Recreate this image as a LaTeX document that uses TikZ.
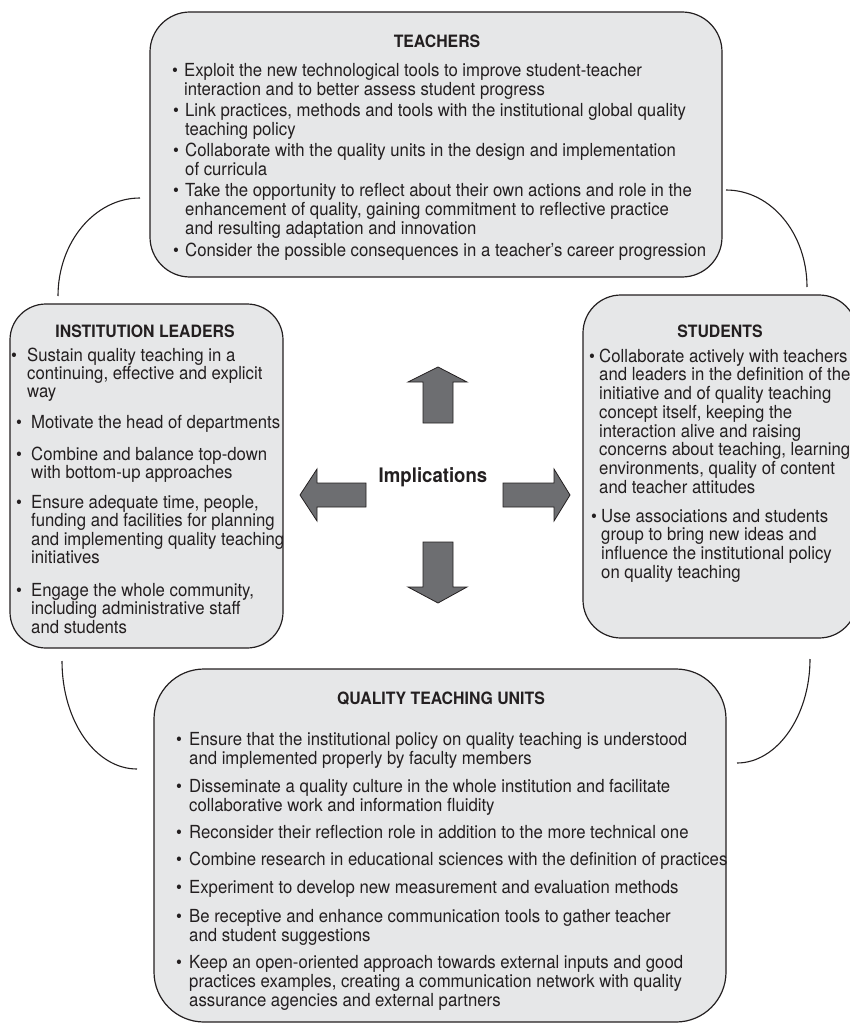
\documentclass[tikz,border=0pt]{standalone}
\usepackage{fontspec}
\setmainfont{TeX Gyre Heros}[FakeStretch=0.93]
\definecolor{boxgray}{HTML}{E6E7E8}
\definecolor{arrowgray}{HTML}{6D6E71}
\definecolor{ink}{HTML}{231F20}
\newcommand\bl[2]{\makebox[#1][l]{\textbullet}\begin{tabular}[t]{@{}l@{}}#2\end{tabular}}
\tikzset{
  panel/.style={draw=ink, line width=1.2pt, fill=boxgray, inner sep=0pt},
  ttl/.style={anchor=base, inner sep=0pt, text=ink, font=\fontsize{17}{17}\selectfont\bfseries},
  itm/.style={anchor=base west, inner sep=0pt, text=ink},
  itmT/.style={itm, font=\fontsize{18}{19}\selectfont},
  itmI/.style={itm, font=\fontsize{18}{18.3}\selectfont},
  itmS/.style={itm, font=\fontsize{18}{18.7}\selectfont},
  itmQ/.style={itm, font=\fontsize{18}{19}\selectfont},
  link/.style={draw=ink, line width=1.1pt},
  fatarrow/.style={draw=ink, line width=0.8pt, fill=arrowgray, line join=miter}
}
\begin{document}
\begin{tikzpicture}[x=1pt,y=-1pt]
\useasboundingbox (0,0) rectangle (850,1024);
\clip (0,0) rectangle (850,1024);

% panels
\node[panel, minimum width=572pt, minimum height=265pt, rounded corners=40pt] (teachers) at (436,144.5) {};
\node[panel, minimum width=273pt, minimum height=344pt, rounded corners=36pt] (leaders) at (146.5,476) {};
\node[panel, minimum width=274pt, minimum height=343pt, rounded corners=38pt] (students) at (720,466.5) {};
\node[panel, minimum width=572pt, minimum height=353pt, rounded corners=50pt] (units) at (440,845.5) {};

% connecting arcs
\coordinate (tlA) at (140,198); \coordinate (tlB) at (58,296);
\coordinate (trA) at (726,190); \coordinate (trB) at (807,287);
\coordinate (blA) at (62,661);  \coordinate (blB) at (137,769);
\coordinate (brA) at (810,659); \coordinate (brB) at (737,763);
\draw[link] (tlA) .. controls +(-45,0) and +(0,-54) .. (tlB);
\draw[link] (trA) .. controls +(45,0) and +(0,-53.5) .. (trB);
\draw[link] (blA) .. controls +(0,60) and +(-41.4,0) .. (blB);
\draw[link] (brA) .. controls +(0,57) and +(40,0) .. (brB);

% titles
\node[ttl] (tT) at (437,48) {TEACHERS};
\node[ttl] (tI) at (145,337) {INSTITUTION LEADERS};
\node[ttl] (tS) at (720,337) {STUDENTS};
\node[ttl] (tQ) at (441,704) {QUALITY TEACHING UNITS};

% teachers
\node[itmT] (t1) at (172,77) {\bl{12pt}{Exploit the new technological tools to improve student-teacher\\interaction and to better assess student progress}};
\node[itmT] (t2) at (173,117) {\bl{12pt}{Link practices, methods and tools with the institutional global quality\\teaching policy}};
\node[itmT] (t3) at (173,157) {\bl{12pt}{Collaborate with the quality units in the design and implementation\\of curricula}};
\node[itmT] (t4) at (173,197) {\bl{12pt}{Take the opportunity to reflect about their own actions and role in the\\enhancement of quality, gaining commitment to reflective practice\\and resulting adaptation and innovation}};
\node[itmT] (t5) at (173,256) {\bl{12pt}{Consider the possible consequences in a teacher’s career progression}};

% institution leaders
\node[itmI] (i1) at (11,361) {\bl{16pt}{Sustain quality teaching in a\\continuing, effective and explicit\\way}};
\node[itmI] (i2) at (16,428) {\bl{15pt}{Motivate the head of departments}};
\node[itmI] (i3) at (16,460) {\bl{15pt}{Combine and balance top-down\\with bottom-up approaches}};
\node[itmI] (i4) at (16,508) {\bl{15pt}{Ensure adequate time, people,\\funding and facilities for planning\\and implementing quality teaching\\initiatives}};
\node[itmI] (i5) at (16,596) {\bl{15pt}{Engage the whole community,\\including administrative staff\\and students}};

% students
\node[itmS] (s1) at (589,362) {\bl{10pt}{Collaborate actively with teachers\\and leaders in the definition of the\\initiative and of quality teaching\\concept itself, keeping the\\interaction alive and raising\\concerns about teaching, learning\\environments, quality of content\\and teacher attitudes}};
\node[itmS] (s2) at (591,522) {\bl{10pt}{Use associations and students\\group to bring new ideas and\\influence the institutional policy\\on quality teaching}};

% implications
\node[anchor=base, inner sep=0pt, text=ink, font=\fontsize{20}{20}\selectfont\bfseries] (impl) at (433,482) {Implications};
\draw[fatarrow] (438,367) -- (467,382) -- (453,382) -- (453,423) -- (423,423) -- (423,382) -- (408,382) -- cycle;
\draw[fatarrow] (423,542) -- (453,542) -- (453,587) -- (467,587) -- (438,603) -- (408,587) -- (423,587) -- cycle;
\draw[fatarrow] (300,495) -- (317,469) -- (317,483) -- (366,483) -- (366,507) -- (317,507) -- (317,521) -- cycle;
\draw[fatarrow] (503,483) -- (554,483) -- (554,469) -- (570,495) -- (554,521) -- (554,507) -- (503,507) -- cycle;

% quality teaching units
\node[itmQ] (q1) at (176,745) {\bl{13pt}{Ensure that the institutional policy on quality teaching is understood\\and implemented properly by faculty members}};
\node[itmQ] (q2) at (176,792) {\bl{13pt}{Disseminate a quality culture in the whole institution and facilitate\\collaborative work and information fluidity}};
\node[itmQ] (q3) at (176,838) {\bl{13pt}{Reconsider their reflection role in addition to the more technical one}};
\node[itmQ] (q4) at (176,865) {\bl{13pt}{Combine research in educational sciences with the definition of practices}};
\node[itmQ] (q5) at (176,893) {\bl{13pt}{Experiment to develop new measurement and evaluation methods}};
\node[itmQ] (q6) at (176,922) {\bl{13pt}{Be receptive and enhance communication tools to gather teacher\\and student suggestions}};
\node[itmQ] (q7) at (176,968) {\bl{13pt}{Keep an open-oriented approach towards external inputs and good\\practices examples, creating a communication network with quality\\assurance agencies and external partners}};
\end{tikzpicture}
\end{document}
